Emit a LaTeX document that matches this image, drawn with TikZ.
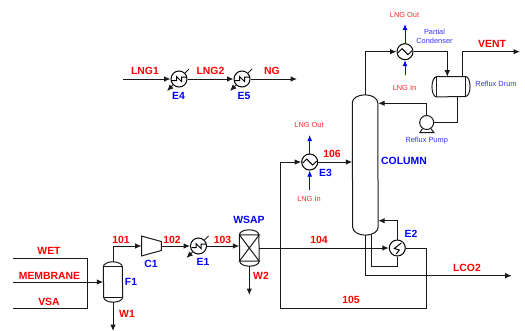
\documentclass[tikz,border=0pt]{standalone}
\usepackage{fontspec}
\setmainfont{Liberation Sans}
\usetikzlibrary{arrows.meta,calc,positioning}
\tikzstyle{stream}=[red,font=\bfseries\fontsize{10.4}{12}\selectfont,inner sep=0pt]
\tikzstyle{unit}=[blue,font=\bfseries\fontsize{10.4}{12}\selectfont,inner sep=0pt]
\tikzstyle{small red}=[red!85,font=\fontsize{7.4}{9}\selectfont,inner sep=0pt]
\tikzstyle{small blue}=[blue!80,font=\fontsize{7.4}{9}\selectfont,inner sep=0pt,align=center]
\tikzstyle{exchanger}=[circle,draw,line width=1pt,minimum size=16pt,inner sep=0pt]
\tikzstyle{wave}=[exchanger,path picture={\draw[line width=1pt] ($(path picture bounding box.center)+(-7pt,-1pt)$) -- ++(4pt,4pt) -- ++(6pt,-6pt) -- ++(4pt,4pt);}]
\tikzstyle{heater}=[exchanger,path picture={\draw[line width=1pt] ($(path picture bounding box.center)+(-7pt,-1.5pt)$) -- ++(4.5pt,0) -- ++(0,4pt) -- ++(5pt,-5pt) -- ++(0,4.5pt) -- ++(5pt,0);}]
\tikzstyle{reboiler}=[exchanger,path picture={\draw[line width=1pt] ($(path picture bounding box.center)+(4pt,5pt)$) -- ++(-7pt,-5.5pt) -- ++(5pt,-1.5pt) -- ++(-3pt,-4pt);}]
\tikzstyle{body}=[rectangle,inner sep=0pt]
\tikzset{line/.style={line width=1pt,black!90},flow/.style={line,-{Latex[length=6.5pt,width=5.5pt]}},lng/.style={line width=1pt,blue,-{Latex[length=6pt,width=5pt]}}}
\newcommand{\heatertail}[1]{
  \draw[line] (#1.45) -- ++(4pt,4pt);
  \draw[flow] (#1.225) -- ++(-6pt,-6pt);
}
\newcommand{\vesselbody}[2]{
  \draw[line] ([yshift=-#2]#1.north west) arc[start angle=180,end angle=0,x radius=0.5*\pgfkeysvalueof{/tikz/vesselwidth},y radius=#2]
    -- ([yshift=#2]#1.south east) arc[start angle=0,end angle=-180,x radius=0.5*\pgfkeysvalueof{/tikz/vesselwidth},y radius=#2] -- cycle;
}
\tikzset{vesselwidth/.initial=19pt}
\begin{document}
\begin{tikzpicture}[x=1pt,y=-1pt]
  \useasboundingbox (0,0) rectangle (525,330);

  % feeds and flash drum
  \coordinate (wetIn) at (13,258);
  \coordinate (memIn) at (13,282);
  \coordinate (vsaIn) at (13,308);
  \coordinate (wetEnd) at (87,258);
  \coordinate (vsaEnd) at (87,308);
  \node[body,minimum width=19pt,minimum height=40pt] (F1) at (113,282) {};
  \pgfkeyssetvalue{/tikz/vesselwidth}{19pt}
  \vesselbody{F1}{5pt}
  \draw[line] ([yshift=-5pt]F1.north west) -- ([yshift=-5pt]F1.north east);
  \draw[line] ([yshift=5pt]F1.south west) -- ([yshift=5pt]F1.south east);
  \draw[line] (wetIn) -- (wetEnd) -- (vsaEnd) -- (vsaIn);
  \draw[flow] (memIn) -- (F1.west);
  \coordinate (w1End) at (113,331);
  \draw[flow] (F1.south) -- (w1End);

  % compressor, cooler, dryer
  \node[body,minimum width=19.5pt,minimum height=19.5pt] (C1) at (151.5,246) {};
  \draw[line] (C1.north west) -- ([yshift=-5.5pt]C1.north east) -- ([yshift=5.5pt]C1.south east) -- (C1.south west) -- cycle;
  \draw[flow] (F1.north) |- (C1.west);
  \node[heater] (E1) at (198.5,246) {};
  \heatertail{E1}
  \draw[flow] (C1.east) -- (E1.west);
  \node[body,minimum width=19.5pt,minimum height=36pt] (WSAP) at (249.3,248) {};
  \pgfkeyssetvalue{/tikz/vesselwidth}{19.5pt}
  \vesselbody{WSAP}{5pt}
  \draw[line] ([yshift=-5pt]WSAP.north west) -- ([yshift=-5pt]WSAP.north east) -- ([yshift=5pt]WSAP.south west) -- ([yshift=5pt]WSAP.south east) -- ([yshift=-5pt]WSAP.north west);
  \draw[flow] (E1.east) -- (WSAP.west |- E1.east);
  \coordinate (w2End) at (249.3,295);
  \draw[flow] (WSAP.south) -- (w2End);

  % column
  \node[body,minimum width=25.5pt,minimum height=140pt] (column) at (365.2,165) {};
  \pgfkeyssetvalue{/tikz/vesselwidth}{25.5pt}
  \vesselbody{column}{8pt}

  % reboiler and product
  \node[reboiler] (E2) at (397.3,248) {};
  \draw[flow] (WSAP.east) -- (E2.west);
  \coordinate (reboilOut) at (371.7,235);
  \coordinate (reboilLow) at (397.3,266.7);
  \draw[line] (reboilOut) |- (reboilLow) -- (E2.south);
  \coordinate (reboilTop) at (397.3,220.7);
  \draw[flow] (E2.north) -- (reboilTop) -- (reboilTop -| column.east);
  \coordinate (lcoOut) at (365.2,235);
  \coordinate (lcoEnd) at (511.7,275.7);
  \draw[flow] (lcoOut) |- (lcoEnd);

  % 105 and E3
  \node[wave] (E3) at (309.7,162) {};
  \coordinate (low105) at (426,308.7);
  \coordinate (left105) at (280.3,308.7);
  \draw[flow] (E2.east) -| (low105) -- (left105) |- (E3.west);
  \draw[flow] (E3.east) -- (E3.east -| column.west);
  \coordinate (e3Out) at (309.7,135);
  \coordinate (e3In) at (309.7,190);
  \draw[lng] (E3.north) -- (e3Out);
  \draw[lng] (e3In) -- (E3.south);

  % overhead
  \node[wave] (E6) at (405,51.7) {};
  \draw[flow] (column.north) |- (E6.west);
  \node[body,minimum width=37.7pt,minimum height=20pt] (drum) at (451,86.7) {};
  \draw[line] ([xshift=4.5pt]drum.north west) -- ([xshift=-4.5pt]drum.north east) arc[start angle=90,end angle=-90,x radius=4.5pt,y radius=10pt]
    -- ([xshift=4.5pt]drum.south west) arc[start angle=-90,end angle=-270,x radius=4.5pt,y radius=10pt] -- cycle;
  \draw[line] ([xshift=4.5pt]drum.north west) -- ([xshift=4.5pt]drum.south west);
  \draw[line] ([xshift=-4.5pt]drum.north east) -- ([xshift=-4.5pt]drum.south east);
  \coordinate (drumIn) at (447.3,76.7);
  \draw[flow] (E6.east) -| (drumIn);
  \coordinate (ventOut) at (462,76.7);
  \coordinate (ventEnd) at (520,51.7);
  \draw[flow] (ventOut) |- (ventEnd);
  \coordinate (e6Out) at (405,24);
  \coordinate (e6In) at (405,75);
  \draw[lng] (E6.north) -- (e6Out);
  \draw[lng] (e6In) -- (E6.south);

  % pump
  \node[circle,draw,line width=1pt,black!90,minimum size=14pt,inner sep=0pt] (pump) at (426.7,122.5) {};
  \draw[line] (pump.-125) -- ++(-2.5pt,-4pt) -- ++(14pt,0) -- (pump.-55);
  \coordinate (drumOut) at (457.3,96.7);
  \draw[line] (drumOut) |- (pump.east);
  \coordinate (pumpTop) at (426.7,103.3);
  \draw[flow] (pump.north) -- (pumpTop) -- (pumpTop -| column.east);

  % top train
  \coordinate (lng1In) at (123,79);
  \node[heater] (E4) at (179,79) {};
  \heatertail{E4}
  \node[heater] (E5) at (242,79) {};
  \heatertail{E5}
  \coordinate (ngEnd) at (297,79);
  \draw[flow] (lng1In) -- (E4.west);
  \draw[flow] (E4.east) -- (E5.west);
  \draw[flow] (E5.east) -- (ngEnd);

  % labels
  \node[stream] (wetLabel) at (49,250.5) {WET};
  \node[stream] (memLabel) at (49.5,276) {MEMBRANE};
  \node[stream] (vsaLabel) at (49,301.5) {VSA};
  \node[stream] (s101) at (121,239.5) {101};
  \node[stream] (s102) at (172,239.5) {102};
  \node[stream] (s103) at (222.5,239.5) {103};
  \node[stream] (s104) at (319,239.5) {104};
  \node[stream] (s105) at (351,299.5) {105};
  \node[stream] (s106) at (332,153.5) {106};
  \node[stream] (w1Label) at (127,314) {W1};
  \node[stream] (w2Label) at (261,276) {W2};
  \node[stream] (lcoLabel) at (467,267.5) {LCO2};
  \node[stream] (ventLabel) at (492,43.5) {VENT};
  \node[stream] (lng1Label) at (145,71) {LNG1};
  \node[stream] (lng2Label) at (210.5,71) {LNG2};
  \node[stream] (ngLabel) at (272,71) {NG};
  \node[unit] (f1Label) at (131,282) {F1};
  \node[unit] (c1Label) at (151,263.5) {C1};
  \node[unit] (e1Label) at (203,262) {E1};
  \node[unit] (wsapLabel) at (249,220) {WSAP};
  \node[unit] (e2Label) at (411,234) {E2};
  \node[unit] (e3Label) at (325.5,172.5) {E3};
  \node[unit] (e4Label) at (178.5,96) {E4};
  \node[unit] (e5Label) at (244,96) {E5};
  \node[unit] (columnLabel) at (404,161) {COLUMN};
  \node[small red] (e3OutLabel) at (309,125) {LNG Out};
  \node[small red] (e3InLabel) at (309,198.5) {LNG In};
  \node[small red] (e6OutLabel) at (404.5,14.5) {LNG Out};
  \node[small red] (e6InLabel) at (404.5,88) {LNG In};
  \node[small blue] (condLabel) at (434.5,36) {Partial\\Condenser};
  \node[small blue] (drumLabel) at (496,84) {Reflux Drum};
  \node[small blue] (pumpLabel) at (426.7,140.5) {Reflux Pump};
\end{tikzpicture}
\end{document}
